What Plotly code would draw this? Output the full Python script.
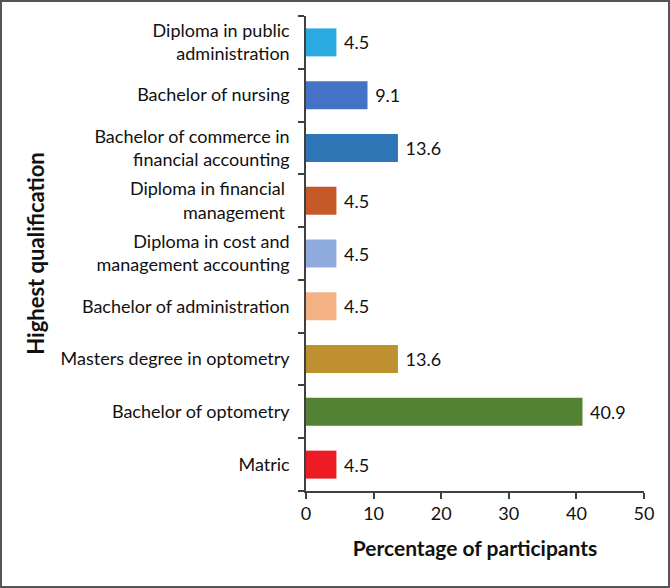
import plotly.graph_objects as go

categories = [
    "Matric",
    "Bachelor of optometry",
    "Masters degree in optometry",
    "Bachelor of administration",
    "Diploma in cost and<br>management accounting",
    "Diploma in financial <br>management ",
    "Bachelor of commerce in<br>financial accounting",
    "Bachelor of nursing",
    "Diploma in public<br>administration",
]
values = [4.5, 40.9, 13.6, 4.5, 4.5, 4.5, 13.6, 9.1, 4.5]
colors = ["#ED1C24", "#548235", "#BF9030", "#F4B183", "#8FAADC",
          "#C55A28", "#2E75B6", "#4472C4", "#29ABE2"]
x_ticks = [0, 10, 20, 30, 40, 50]

FONT = "Lato, 'Open Sans', sans-serif"

fig = go.Figure(go.Bar(
    x=values, y=categories, orientation="h",
    marker=dict(color=colors, line=dict(width=0)),
    text=[f"{v}" for v in values], textposition="outside",
    texttemplate=" %{text}",
    textfont=dict(size=18, color="#111", family=FONT),
    cliponaxis=False,
))

W, H = 670, 588
l, r, t, b = 306, 26, 16, 97
pw, ph = W - l - r, H - t - b

fig.update_layout(
    width=W, height=H,
    margin=dict(l=l, r=r, t=t, b=b),
    paper_bgcolor="white", plot_bgcolor="white",
    bargap=0.47, showlegend=False,
    font=dict(family=FONT, size=18, color="#111"),
    xaxis=dict(
        range=[0, 50], tickvals=x_ticks, showgrid=False, zeroline=False,
        showline=True, linecolor="#404040", linewidth=1.5,
        ticks="outside", ticklen=6, tickcolor="#404040", tickwidth=1.5,
        tickfont=dict(size=18, color="#111"),
        title=dict(text="<b>Percentage of participants</b>",
                   font=dict(size=21, color="#111"), standoff=18),
    ),
    yaxis=dict(
        type="category", categoryorder="array", categoryarray=categories,
        showgrid=False, zeroline=False,
        showline=True, linecolor="#404040", linewidth=1.5,
        ticks="outside", ticklen=6, tickcolor="#404040", tickwidth=1.5,
        tickson="boundaries", ticklabelstandoff=11,
        tickfont=dict(size=18, color="#111"),
        title=dict(text="<b>Highest qualification</b>",
                   font=dict(size=22, color="#111"), standoff=10),
    ),
)

# outer frame around the whole picture
fig.add_shape(type="rect", xref="paper", yref="paper",
              x0=(1 - l) / pw, x1=(W - 1 - l) / pw,
              y0=-(b - 1) / ph, y1=1 + (t - 1) / ph,
              line=dict(color="#555555", width=2), fillcolor="rgba(0,0,0,0)",
              layer="above")

fig.write_html("out.html")
